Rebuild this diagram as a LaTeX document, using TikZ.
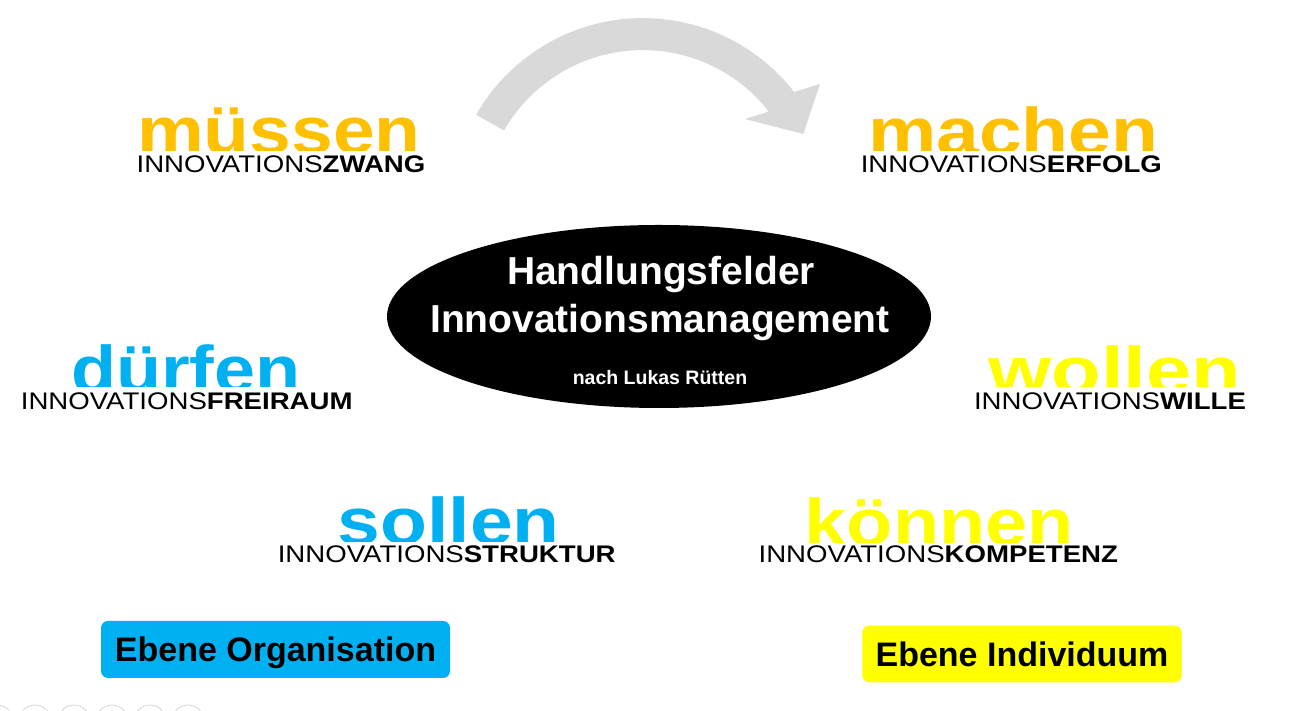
\documentclass[tikz,border=0pt]{standalone}
\usepackage{fontspec}
\setmainfont{Liberation Sans}
\usetikzlibrary{shapes.geometric,calc}
\definecolor{orng}{HTML}{FFC000}
\definecolor{skyb}{HTML}{00B0F0}
\definecolor{yell}{HTML}{FFFF00}
\definecolor{arrg}{HTML}{D9D9D9}
\begin{document}
\begin{tikzpicture}[x=1pt,y=1pt,
  word/.style={anchor=base,inner sep=0pt,font=\bfseries\fontsize{66}{66}\selectfont},
  inno/.style={anchor=base,inner sep=0pt,fill=white,text height=21.5pt,text depth=2pt,
    font=\fontsize{24}{24}\selectfont},
  core/.style={ellipse,fill=black,draw=none,minimum width=544,minimum height=183,inner sep=0pt},
  coretxt/.style={anchor=base,inner sep=0pt,text=white,font=\bfseries\fontsize{39}{39}\selectfont},
  lvl/.style={rounded corners=7pt,inner sep=0pt,text depth=0pt,text height=25pt,
    font=\bfseries\fontsize{34}{34}\selectfont},
  navc/.style={draw=black!18,line width=0.7pt}]
\useasboundingbox (0,0) rectangle (1296,711);
\fill[white] (0,0) rectangle (1296,711);
% curved arrow
\coordinate (ac) at (642.8,500.9);
\fill[arrg] ($(ac)+(150.2:192)$) arc[start angle=150.2,end angle=38,radius=192]
  -- (820,627) -- (803.3,577) -- (745,592)
  -- ($(ac)+(38:160)$) arc[start angle=38,end angle=150.2,radius=160] -- cycle;
% words
\node[word,text=orng] (mus) at (279,557) {\scalebox{1.136}[1]{müssen}};
\node[word,text=orng] (mac) at (1013.3,556) {\scalebox{1.164}[1]{machen}};
\node[word,text=skyb] (dur) at (185.8,318.5) {\scalebox{1.118}[1]{dürfen}};
\node[word,text=yell] (wol) at (1114.5,317.5) {\scalebox{1.227}[1]{wollen}};
\node[word,text=skyb] (sol) at (448.8,166) {\scalebox{1.164}[1]{sollen}};
\node[word,text=yell] (kon) at (939.2,165) {\scalebox{1.145}[1]{können}};
\node[inno] (zw) at (281,538) {\scalebox{1.15}[1]{INNOVATIONS\textbf{ZWANG}}};
\node[inno] (er) at (1011.3,538) {\scalebox{1.15}[1]{INNOVATIONS\textbf{ERFOLG}}};
\node[inno,text height=23pt] (fr) at (186.7,301) {\scalebox{1.15}[1]{INNOVATIONS\textbf{FREIRAUM}}};
\node[inno,text height=23pt] (wi) at (1110,301) {\scalebox{1.15}[1]{INNOVATIONS\textbf{WILLE}}};
\node[inno,text height=20.8pt] (st) at (446.7,148.5) {\scalebox{1.15}[1]{INNOVATIONS\textbf{STRUKTUR}}};
\node[inno,text height=20pt] (ko) at (938.3,148) {\scalebox{1.15}[1]{INNOVATIONS\textbf{KOMPETENZ}}};
% central ellipse
\node[core] (ell) at (659,394.5) {};
\node[coretxt] (t1) at (661,426) {Handlungsfelder};
\node[coretxt] (t2) at (660,378.7) {Innovationsmanagement};
\node[anchor=base,inner sep=0pt,text=white,font=\bfseries\fontsize{19.5}{19.5}\selectfont] (t3) at (660,326) {nach Lukas Rütten};
% level boxes
\node[lvl,fill=skyb,minimum width=349,minimum height=57] (org) at (275.5,61.5) {Ebene Organisation};
\node[lvl,fill=yell,minimum width=319.4,minimum height=56.6] (ind) at (1022,57) {Ebene Individuum};
% faint navigation circles
\foreach \cx in {-3,35,74,112,150,188}{
  \draw[navc] (\cx,-10) circle[radius=16];
}
\end{tikzpicture}
\end{document}
